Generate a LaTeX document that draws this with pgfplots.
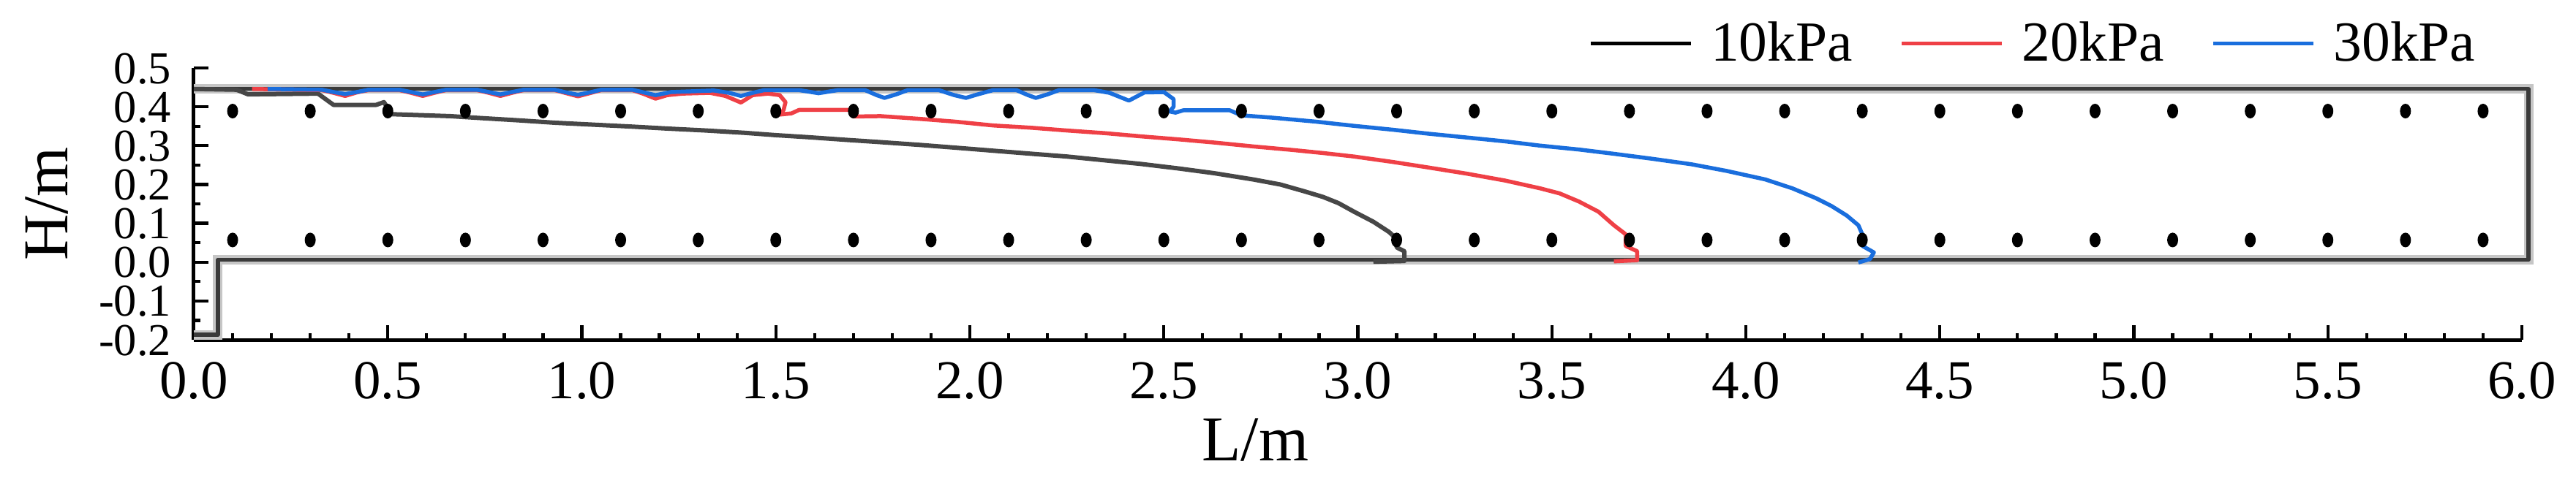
\documentclass[border=0pt]{standalone}
\usepackage{fontspec}
\setmainfont{Liberation Serif}
\usepackage{pgfplots}
\pgfplotsset{compat=1.18}
\definecolor{c10}{HTML}{474747}
\definecolor{c20}{HTML}{EF4046}
\definecolor{c30}{HTML}{1A6EDD}
\definecolor{tank}{HTML}{3A3A3A}
\definecolor{halo}{HTML}{C6C6C6}

\begin{document}
\begin{tikzpicture}
\path[use as bounding box] (-53pt,-44.2pt) rectangle (651.4pt,93pt);
\begin{axis}[
    scale only axis, width=636.6pt, height=74.4pt,
    xmin=0, xmax=6, ymin=-0.2, ymax=0.5,
    clip=false,
    axis x line*=bottom, axis y line*=left,
    axis line style={-, line width=1pt, black},
    tick align=inside,
    xtick={0,0.5,1,1.5,2,2.5,3,3.5,4,4.5,5,5.5,6}, minor x tick num=4,
    ytick={-0.2,-0.1,0,0.1,0.2,0.3,0.4,0.5}, minor y tick num=1,
    major tick length=4pt, minor tick length=1.8pt,
    every tick/.style={black, line width=0.85pt},
    /pgf/number format/fixed, /pgf/number format/fixed zerofill,
    /pgf/number format/precision=1, /pgf/number format/assume math mode=true,
    xticklabel style={font=\fontsize{15}{15}\selectfont, inner sep=0pt, yshift=-6pt},
    yticklabel style={font=\fontsize{12.5}{12.5}\selectfont, inner sep=0pt, xshift=-6pt,
        text height=8.4pt, text depth=0pt, anchor=east},
    xlabel={L/m}, ylabel={H/m},
    xlabel style={at={(axis description cs:0.456,-0.368)}, anchor=center, font=\fontsize{17.5}{17.5}\selectfont},
    ylabel style={at={(axis description cs:-0.0631,0.5)}, anchor=center, font=\fontsize{17.5}{17.5}\selectfont},
    legend columns=3,
    legend style={draw=none, fill=none, at={(rel axis cs:0.980,1.089)}, anchor=east,
        inner sep=0pt, outer sep=0pt, font=\fontsize{15.5}{15.5}\selectfont,
        nodes={inner sep=0pt},
        /tikz/every odd column/.append style={column sep=5pt},
        /tikz/every even column/.append style={column sep=13pt}},
    legend image code/.code={\draw[#1] (0pt,0pt) -- (27.4pt,0pt);},
]
% tank outline
\addplot[halo, line width=2.6pt, forget plot] coordinates {
 (0,-0.187) (0.062,-0.187) (0.062,0.006) (6.017,0.006) (6.017,0.446) (0,0.446)};
\addplot[tank, line width=1.1pt, forget plot, line join=round] coordinates {
 (0,-0.187) (0.062,-0.187) (0.062,0.006) (6.017,0.006) (6.017,0.446) (0,0.446)};
% gauge points
\addplot[only marks, mark=*, mark size=1.8pt, mark options={black, xscale=0.72}, forget plot] coordinates {
 (0.1,0.389) (0.3,0.389) (0.5,0.389) (0.7,0.389) (0.9,0.389) (1.1,0.389) (1.3,0.389) (1.5,0.389)
 (1.7,0.389) (1.9,0.389) (2.1,0.389) (2.3,0.389) (2.5,0.389) (2.7,0.389) (2.9,0.389) (3.1,0.389)
 (3.3,0.389) (3.5,0.389) (3.7,0.389) (3.9,0.389) (4.1,0.389) (4.3,0.389) (4.5,0.389) (4.7,0.389)
 (4.9,0.389) (5.1,0.389) (5.3,0.389) (5.5,0.389) (5.7,0.389) (5.9,0.389)};
\addplot[only marks, mark=*, mark size=1.8pt, mark options={black, xscale=0.72}, forget plot] coordinates {
 (0.1,0.057) (0.3,0.057) (0.5,0.057) (0.7,0.057) (0.9,0.057) (1.1,0.057) (1.3,0.057) (1.5,0.057)
 (1.7,0.057) (1.9,0.057) (2.1,0.057) (2.3,0.057) (2.5,0.057) (2.7,0.057) (2.9,0.057) (3.1,0.057)
 (3.3,0.057) (3.5,0.057) (3.7,0.057) (3.9,0.057) (4.1,0.057) (4.3,0.057) (4.5,0.057) (4.7,0.057)
 (4.9,0.057) (5.1,0.057) (5.3,0.057) (5.5,0.057) (5.7,0.057) (5.9,0.057)};
% 10kPa
\addplot[c10, line width=1.2pt, line join=round, forget plot] coordinates {
 (0,0.446) (0.11,0.444) (0.14,0.432) (0.32,0.434) (0.36,0.405) (0.47,0.405) (0.49,0.412)
 (0.51,0.381) (0.66,0.376) (0.74,0.371) (0.84,0.365) (0.93,0.359) (1.03,0.354) (1.13,0.349)
 (1.22,0.344) (1.32,0.339) (1.42,0.333) (1.50,0.327) (1.58,0.322) (1.68,0.315) (1.77,0.309)
 (1.87,0.302) (1.96,0.295) (2.06,0.287) (2.16,0.279) (2.25,0.272) (2.35,0.262) (2.44,0.253)
 (2.54,0.241) (2.63,0.229) (2.73,0.213) (2.80,0.200) (2.86,0.183) (2.91,0.168) (2.95,0.152)
 (2.99,0.130) (3.04,0.104) (3.08,0.078) (3.10,0.060) (3.10,0.038) (3.12,0.028) (3.12,0.003)
 (3.04,0.001)};
% 20kPa
\addplot[c20, line width=1.1pt, line join=round, forget plot] coordinates {
 (0.15,0.446) (0.33,0.443) (0.36,0.436) (0.39,0.428) (0.42,0.437) (0.45,0.443) (0.53,0.443)
 (0.56,0.436) (0.59,0.428) (0.62,0.436) (0.65,0.443) (0.73,0.443) (0.76,0.436) (0.79,0.428)
 (0.82,0.436) (0.85,0.443) (0.93,0.443) (0.96,0.435) (0.99,0.427) (1.02,0.435) (1.05,0.443)
 (1.13,0.443) (1.16,0.433) (1.19,0.421) (1.22,0.430) (1.26,0.434) (1.33,0.436) (1.37,0.428)
 (1.41,0.411) (1.44,0.430) (1.48,0.434) (1.51,0.430) (1.525,0.412) (1.52,0.392) (1.51,0.380)
 (1.54,0.383) (1.56,0.392) (1.69,0.392) (1.70,0.375) (1.77,0.376) (1.87,0.369) (1.96,0.362)
 (2.06,0.352) (2.16,0.346) (2.25,0.339) (2.35,0.332) (2.44,0.324) (2.54,0.316) (2.63,0.308)
 (2.73,0.298) (2.83,0.289) (2.91,0.281) (2.99,0.272) (3.09,0.258) (3.18,0.244) (3.28,0.228)
 (3.38,0.210) (3.47,0.190) (3.52,0.177) (3.57,0.156) (3.62,0.130) (3.66,0.095) (3.69,0.072)
 (3.69,0.042) (3.72,0.028) (3.72,0.005) (3.66,0.002)};
% 30kPa
\addplot[c30, line width=1.1pt, line join=round, forget plot] coordinates {
 (0.19,0.446) (0.33,0.444) (0.36,0.438) (0.39,0.433) (0.42,0.438) (0.45,0.444) (0.53,0.444)
 (0.56,0.438) (0.59,0.432) (0.62,0.438) (0.65,0.444) (0.73,0.444) (0.76,0.438) (0.79,0.432)
 (0.82,0.438) (0.85,0.444) (0.93,0.444) (0.96,0.437) (0.99,0.431) (1.02,0.437) (1.05,0.444)
 (1.13,0.444) (1.16,0.437) (1.19,0.430) (1.23,0.438) (1.34,0.442) (1.38,0.436) (1.41,0.428)
 (1.44,0.436) (1.47,0.443) (1.56,0.443) (1.61,0.435) (1.66,0.443) (1.73,0.443) (1.76,0.430)
 (1.78,0.423) (1.81,0.432) (1.84,0.443) (1.92,0.443) (1.96,0.430) (1.99,0.423) (2.02,0.432)
 (2.06,0.443) (2.12,0.443) (2.15,0.430) (2.17,0.423) (2.20,0.432) (2.23,0.443) (2.32,0.443)
 (2.36,0.436) (2.41,0.416) (2.45,0.437) (2.50,0.438) (2.525,0.420) (2.525,0.400) (2.515,0.388)
 (2.53,0.385) (2.55,0.391) (2.67,0.391) (2.70,0.378) (2.78,0.372) (2.89,0.362) (2.99,0.351)
 (3.09,0.341) (3.18,0.331) (3.28,0.321) (3.38,0.311) (3.47,0.300) (3.57,0.290) (3.66,0.279)
 (3.76,0.266) (3.86,0.252) (3.95,0.235) (4.05,0.213) (4.12,0.190) (4.18,0.165) (4.22,0.145)
 (4.26,0.120) (4.29,0.095) (4.30,0.072) (4.30,0.042) (4.33,0.025) (4.32,0.008) (4.29,-0.001)};
% legend
\addlegendimage{black, line width=1pt}
\addlegendentry{10kPa}
\addlegendimage{c20, line width=1pt}
\addlegendentry{20kPa}
\addlegendimage{c30, line width=1pt}
\addlegendentry{30kPa}
\end{axis}
\end{tikzpicture}
\end{document}
